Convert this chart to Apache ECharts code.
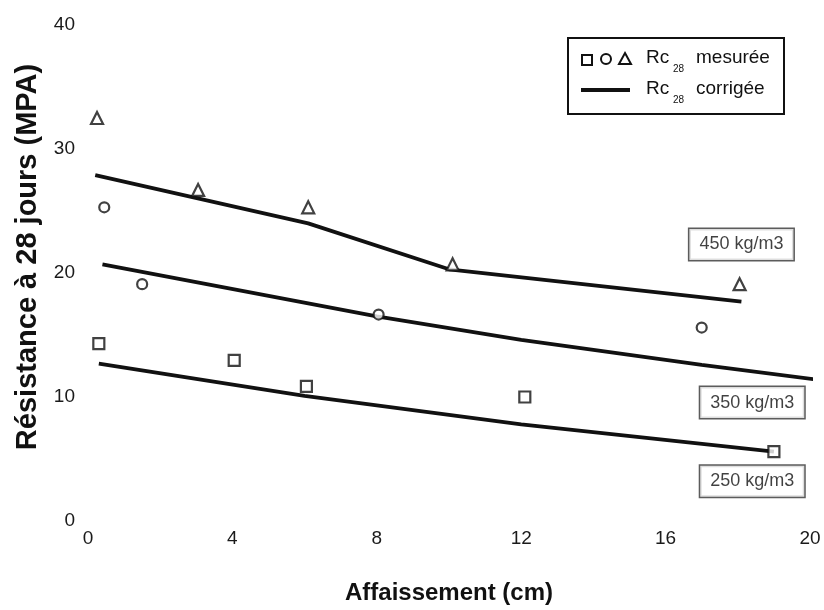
<!DOCTYPE html>
<html>
<head>
<meta charset="utf-8">
<script src="https://cdn.jsdelivr.net/npm/echarts@6/dist/echarts.min.js"></script>
<style>
  html, body { margin: 0; padding: 0; background: #fff; }
  #chart { width: 824px; height: 610px; }
</style>
</head>
<body>
<div id="chart"></div>
<script>
// axis ticks
const xTicks = [0, 4, 8, 12, 16, 20]
const yTicks = [0, 10, 20, 30, 40]

// measured Rc28 (points) for each cement dosage
const mesure250 = [[0.3, 14.3], [4.05, 12.95], [6.05, 10.85], [12.1, 10.0], [19.0, 5.6]]
const mesure350 = [[0.45, 25.3], [1.5, 19.1], [8.05, 16.65], [17.0, 15.6]]
const mesure450 = [[0.25, 32.5], [3.05, 26.7], [6.1, 25.3], [10.1, 20.7], [18.05, 19.1]]

// corrected Rc28 (lines)
const corr250 = [[0.3, 12.7], [6, 10.1], [12, 7.8], [19, 5.6]]
const corr350 = [[0.4, 20.7], [8, 16.5], [12, 14.6], [17, 12.6], [20.2, 11.4]]
const corr450 = [[0.2, 27.9], [6.1, 24.0], [10, 20.3], [18.1, 17.7]]

// dosage labels
const dosageNames = ['450 kg/m3', '350 kg/m3', '250 kg/m3']
const dosagePos = [[18.1, 22.3], [18.4, 9.55], [18.4, 3.2]]

const ink = '#111'
const font = 'Liberation Sans, Arial, sans-serif'

var chart = echarts.init(document.getElementById('chart'))

function markSeries (data, symbol, size) {
  return {
    type: 'scatter',
    data: data,
    symbol: symbol,
    symbolSize: size,
    itemStyle: { color: '#fff', borderColor: ink, borderWidth: 2.2 },
    z: 5
  }
}

function lineSeries (data) {
  return {
    type: 'line',
    data: data,
    showSymbol: false,
    clip: false,
    lineStyle: { color: ink, width: 3.8 },
    z: 3
  }
}

var labelData = []
for (var i = 0; i < dosageNames.length; i++) {
  labelData.push({ name: dosageNames[i], value: dosagePos[i] })
}

var opt = {
  animation: false,
  backgroundColor: '#fff',
  grid: { left: 88, right: 14, top: 25, bottom: 88 },
  xAxis: {
    type: 'value',
    min: xTicks[0],
    max: xTicks[xTicks.length - 1],
    interval: xTicks[1] - xTicks[0],
    axisLine: { show: false },
    axisTick: { show: false },
    splitLine: { show: false },
    axisLabel: { color: '#1a1a1a', fontSize: 19, fontFamily: font, margin: 8 },
    name: 'Affaissement (cm)',
    nameLocation: 'middle',
    nameGap: 60,
    nameTextStyle: { color: ink, fontSize: 24, fontWeight: 'bold', fontFamily: font }
  },
  yAxis: {
    type: 'value',
    min: yTicks[0],
    max: yTicks[yTicks.length - 1],
    interval: yTicks[1] - yTicks[0],
    axisLine: { show: false },
    axisTick: { show: false },
    splitLine: { show: false },
    axisLabel: { color: '#1a1a1a', fontSize: 19, fontFamily: font, margin: 13 },
    name: 'Résistance à 28 jours (MPA)',
    nameLocation: 'middle',
    nameGap: 46,
    nameTextStyle: { color: ink, fontSize: 29, fontWeight: 'bold', fontFamily: font, padding: [0, 0, 0, 32] }
  },
  series: [
    lineSeries(corr250),
    lineSeries(corr350),
    lineSeries(corr450),
    markSeries(mesure250, 'rect', 11),
    markSeries(mesure350, 'circle', 10),
    markSeries(mesure450, 'triangle', 12),
    {
      type: 'scatter',
      data: labelData,
      symbolSize: 0,
      label: {
        show: true,
        position: 'inside',
        formatter: '{b}',
        color: ink,
        fontSize: 18,
        fontFamily: font,
        backgroundColor: '#fff',
        borderColor: '#333',
        borderWidth: 1.5,
        padding: [7, 10, 6, 10]
      },
      z: 6
    }
  ],
  graphic: [
    { type: 'rect', left: 567, top: 37, shape: { width: 216, height: 76 },
      style: { fill: '#fff', stroke: ink, lineWidth: 2 }, z: 10 },
    { type: 'rect', left: 581, top: 54, shape: { width: 10, height: 10 },
      style: { fill: '#fff', stroke: ink, lineWidth: 2 }, z: 11 },
    { type: 'circle', shape: { cx: 606, cy: 59, r: 5 },
      style: { fill: '#fff', stroke: ink, lineWidth: 2 }, z: 11 },
    { type: 'polygon', shape: { points: [[625, 53], [631, 64], [619, 64]] },
      style: { fill: '#fff', stroke: ink, lineWidth: 2 }, z: 11 },
    { type: 'line', shape: { x1: 581, y1: 90, x2: 630, y2: 90 },
      style: { stroke: ink, lineWidth: 3.8 }, z: 11 },
    { type: 'text', left: 646, top: 48, z: 11,
      style: { text: 'Rc', font: '19px ' + font, fill: ink } },
    { type: 'text', left: 673, top: 64, z: 11,
      style: { text: '28', font: '10px ' + font, fill: ink } },
    { type: 'text', left: 696, top: 48, z: 11,
      style: { text: 'mesurée', font: '19px ' + font, fill: ink } },
    { type: 'text', left: 646, top: 79, z: 11,
      style: { text: 'Rc', font: '19px ' + font, fill: ink } },
    { type: 'text', left: 673, top: 95, z: 11,
      style: { text: '28', font: '10px ' + font, fill: ink } },
    { type: 'text', left: 696, top: 79, z: 11,
      style: { text: 'corrigée', font: '19px ' + font, fill: ink } }
  ]
}

chart.setOption(opt)
window.onresize = () => { chart.resize() }
</script>
</body>
</html>
